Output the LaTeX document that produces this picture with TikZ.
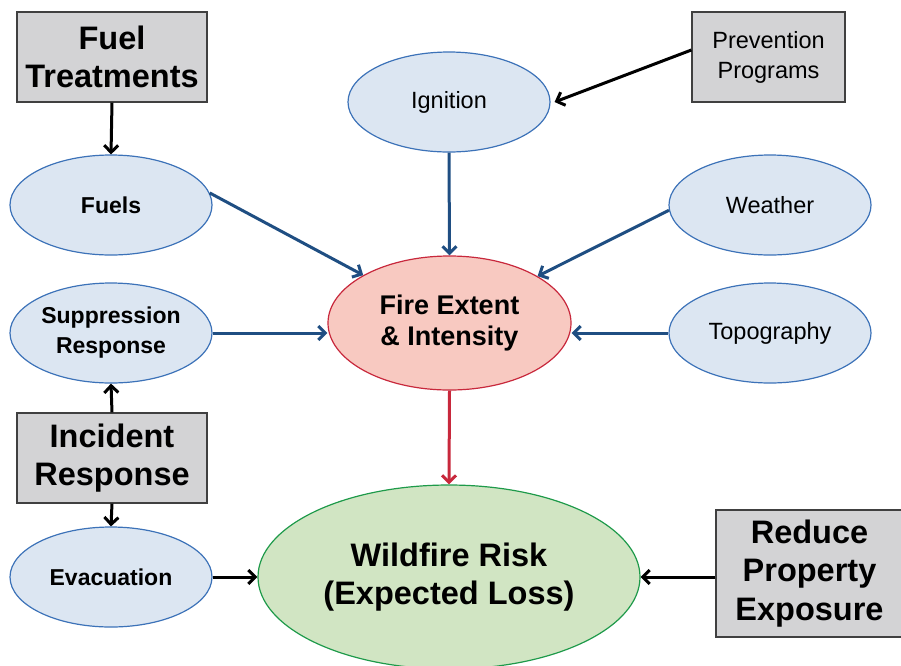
\documentclass[tikz,border=0pt]{standalone}
\usepackage{fontspec}
\setmainfont{Liberation Sans}
\usetikzlibrary{shapes.geometric,arrows.meta}
\definecolor{ellfill}{HTML}{DCE6F2}
\definecolor{elldraw}{HTML}{3C72B8}
\definecolor{arrblue}{HTML}{1F4E82}
\definecolor{firefill}{HTML}{F8C9C1}
\definecolor{firedraw}{HTML}{C8283C}
\definecolor{wildfill}{HTML}{D1E5C3}
\definecolor{wilddraw}{HTML}{1E9A4A}
\definecolor{boxfill}{HTML}{D3D3D5}
\definecolor{boxdraw}{HTML}{404040}
\tikzset{
  ell/.style={ellipse, draw=elldraw, fill=ellfill, line width=1.2pt, minimum width=202pt, minimum height=100pt, inner sep=0pt, align=center, font=\fontsize{23.5}{30}\selectfont},
  ellb/.style={ell, font=\fontsize{23}{30}\selectfont\bfseries},
  gbox/.style={rectangle, draw=boxdraw, fill=boxfill, line width=1.2pt, inner sep=0pt, align=center},
  bigtext/.style={font=\fontsize{32.5}{38.5}\selectfont\bfseries},
  tip/.style={-{Straight Barb[length=7pt,width=14pt]}},
  barr/.style={tip, draw=arrblue, line width=3pt},
  karr/.style={tip, draw=black, line width=3pt},
  rarr/.style={tip, draw=firedraw, line width=3pt},
}
\begin{document}
\begin{tikzpicture}[x=1pt,y=-1pt]
\useasboundingbox (0,0) rectangle (901,665);
\node[gbox, bigtext, minimum width=190pt, minimum height=90pt] (ft) at (112,57) {Fuel\\Treatments};
\node[gbox, minimum width=153pt, minimum height=90pt, font=\fontsize{23.5}{30}\selectfont] (prev) at (768.5,57) {Prevention\\Programs};
\node[gbox, bigtext, minimum width=190pt, minimum height=90pt] (inc) at (112,458) {Incident\\Response};
\node[gbox, bigtext, minimum width=187pt, minimum height=127pt] (red) at (809.5,573.5) {Reduce\\Property\\Exposure};

\node[ellb] (fuels) at (111,205) {Fuels};
\node[ell] (ign) at (449,102) {Ignition};
\node[ell] (wea) at (770,205) {Weather};
\node[ellb] (sup) at (111,333) {Suppression\\Response};
\node[ell] (topo) at (770,333) {Topography};
\node[ellb] (evac) at (111,577) {Evacuation};
\node[ellipse, draw=firedraw, fill=firefill, line width=1.2pt, minimum width=243pt, minimum height=134pt, inner sep=0pt, align=center, font=\fontsize{27}{31.5}\selectfont\bfseries] (fire) at (449.5,323) {Fire Extent\\\& Intensity};
\node[ellipse, draw=wilddraw, fill=wildfill, line width=1.2pt, minimum width=382pt, minimum height=184pt, inner sep=0pt, align=center, font=\fontsize{32.5}{38.5}\selectfont\bfseries] (wild) at (449,577) {Wildfire Risk\\(Expected Loss)};

\draw[karr] (ft.south) -- (fuels.north);
\draw[karr] ([yshift=7pt]prev.west) -- ([xshift=4pt]ign.east);
\draw[barr] (fuels.7) -- (fire.151);
\draw[barr] (ign.south) -- (fire.north);
\draw[barr] (wea.183) -- (fire.28);
\draw[barr] (sup.east) -- (fire.west |- sup.east);
\draw[barr] (topo.west) -- (fire.east |- topo.west);
\draw[rarr] (fire.south) -- (wild.north);
\draw[karr] (inc.north) -- (sup.south);
\draw[karr] (inc.south) -- (evac.north);
\draw[karr] (evac.east) -- (wild.west);
\draw[karr] (red.west |- wild.east) -- (wild.east);
\end{tikzpicture}
\end{document}
